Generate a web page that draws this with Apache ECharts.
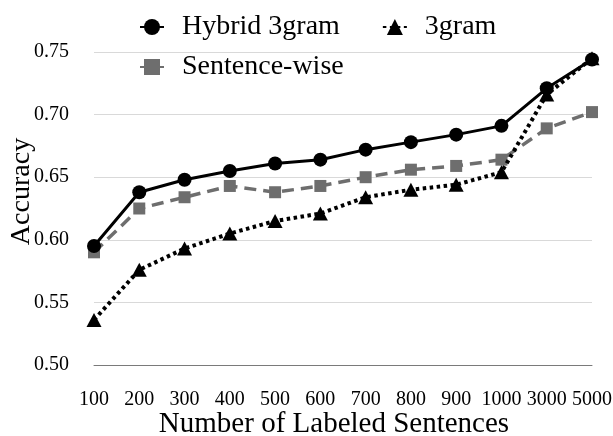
<!DOCTYPE html>
<html>
<head>
<meta charset="utf-8">
<script src="https://cdn.jsdelivr.net/npm/echarts@6/dist/echarts.min.js"></script>
<style>
html,body{margin:0;padding:0;background:#fff;}
#c{width:613px;height:436px;}
</style>
</head>
<body>
<div id="c"></div>
<script>
const categories = ['100','200','300','400','500','600','700','800','900','1000','3000','5000'];
const hybrid3gram = [0.595,0.638,0.648,0.655,0.661,0.664,0.672,0.678,0.684,0.691,0.721,0.744];
const trigram = [0.536,0.576,0.593,0.605,0.615,0.621,0.634,0.640,0.644,0.654,0.716,0.745];
const sentenceWise = [0.590,0.625,0.634,0.643,0.638,0.643,0.650,0.656,0.659,0.664,0.689,0.702];
const yMin = 0.50, yMax = 0.75, yStep = 0.05;

const FONT = "'Liberation Serif','Times New Roman',serif";
const chart = echarts.init(document.getElementById('c'), null, {renderer:'canvas'});
chart.setOption({
  animation:false,
  backgroundColor:'#fff',
  textStyle:{fontFamily:FONT,color:'#000'},
  grid:{left:94,right:21,top:52,bottom:71,containLabel:false,outerBoundsMode:'none'},
  legend:[
    {data:['Hybrid 3gram','3gram'],left:134,top:8,itemWidth:24,itemHeight:20,itemGap:42,
     textStyle:{fontFamily:FONT,fontSize:28,color:'#000',padding:[0,0,0,13]}},
    {data:['Sentence-wise'],left:134,top:48,itemWidth:24,itemHeight:20,
     textStyle:{fontFamily:FONT,fontSize:28,color:'#000',padding:[0,0,0,13]}}
  ],
  xAxis:{
    type:'category',data:categories,boundaryGap:false,
    name:'Number of Labeled Sentences',nameLocation:'middle',nameGap:45,nameMoveOverlap:false,
    nameTextStyle:{fontFamily:FONT,fontSize:29,color:'#000',padding:[0,18,0,0]},
    axisLine:{lineStyle:{color:'#7a7a7a',width:1}},
    axisTick:{show:false},
    axisLabel:{fontFamily:FONT,fontSize:20,color:'#000',margin:25,interval:0}
  },
  yAxis:{
    type:'value',min:yMin,max:yMax,interval:yStep,
    name:'Accuracy',nameLocation:'middle',nameGap:58,nameMoveOverlap:false,
    nameTextStyle:{fontFamily:FONT,fontSize:28,color:'#000',padding:[0,0,0,34]},
    axisLine:{show:false},axisTick:{show:false},
    splitLine:{lineStyle:{color:'#d9d9d9',width:1}},
    axisLabel:{fontFamily:FONT,fontSize:20,color:'#000',margin:25,formatter:v=>v.toFixed(2)}
  },
  series:[
    {name:'Sentence-wise',type:'line',data:sentenceWise,symbol:'rect',symbolSize:12,
     itemStyle:{color:'#6e6e6e'},lineStyle:{color:'#6e6e6e',width:3.5,type:[12,7]},z:2},
    {name:'Hybrid 3gram',type:'line',data:hybrid3gram,symbol:'circle',symbolSize:14,
     itemStyle:{color:'#000'},lineStyle:{color:'#000',width:3},z:3},
    {name:'3gram',type:'line',data:trigram,symbol:'triangle',symbolSize:[15,14],
     itemStyle:{color:'#000'},lineStyle:{color:'#000',width:4,type:[3.5,3.5]},z:4}
  ]
});
</script>
</body>
</html>
